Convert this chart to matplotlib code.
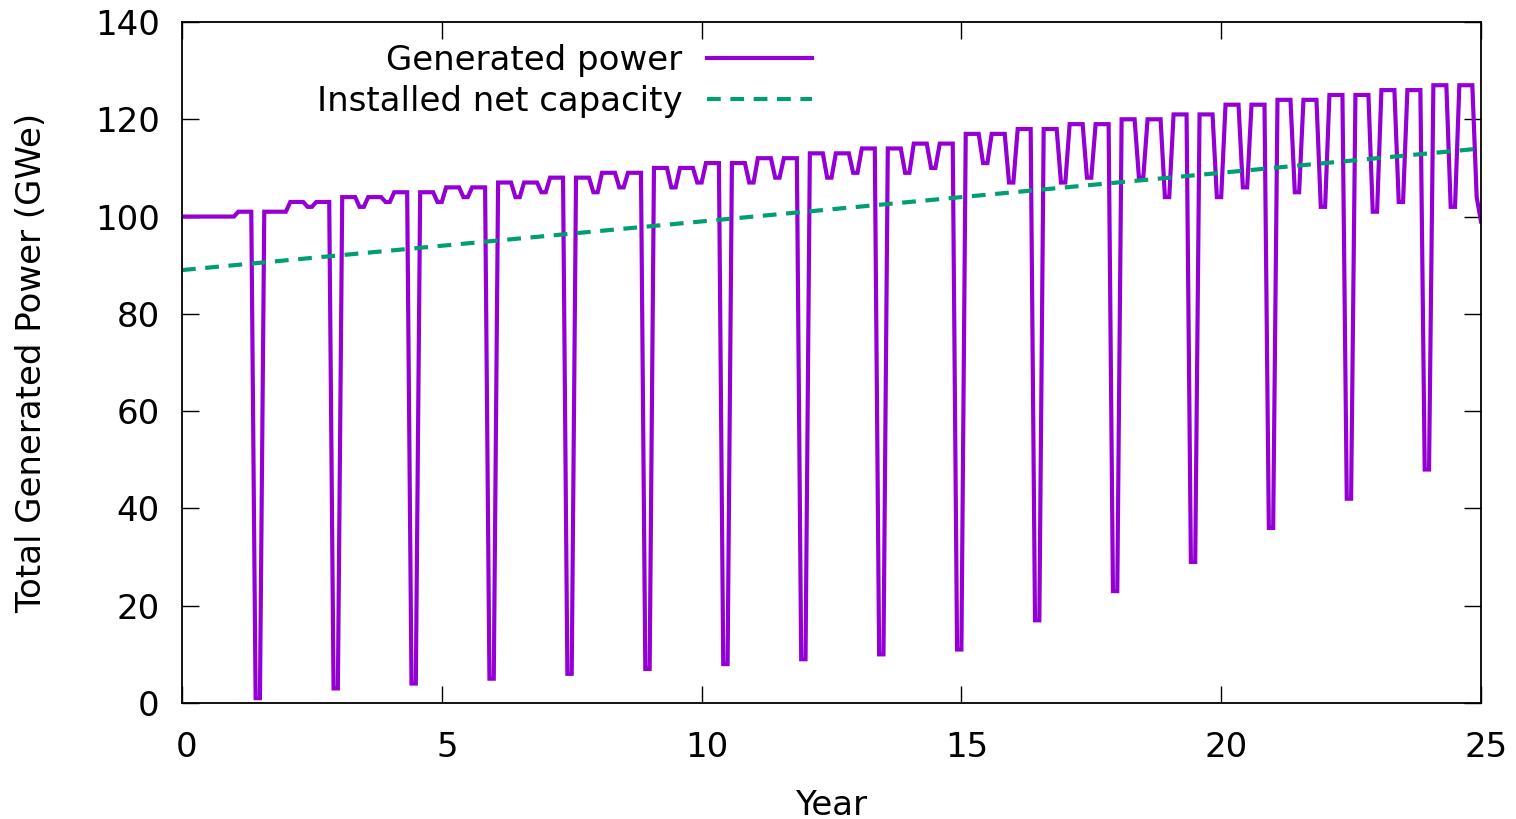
import numpy as np
import matplotlib
matplotlib.use("Agg")
import matplotlib.pyplot as plt
import matplotlib.transforms as mtransforms

# monthly samples of total generated power (GWe), one source line per 18-month cycle
gen_power = [
    100,
    100, 100, 100, 100, 100, 100, 100, 100, 100, 100, 100, 100, 101, 101, 101, 101, 1, 1,
    101, 101, 101, 101, 101, 101, 103, 103, 103, 103, 102, 102, 103, 103, 103, 103, 3, 3,
    104, 104, 104, 104, 102, 102, 104, 104, 104, 104, 103, 103, 105, 105, 105, 105, 4, 4,
    105, 105, 105, 105, 103, 103, 106, 106, 106, 106, 104, 104, 106, 106, 106, 106, 5, 5,
    107, 107, 107, 107, 104, 104, 107, 107, 107, 107, 105, 105, 108, 108, 108, 108, 6, 6,
    108, 108, 108, 108, 105, 105, 109, 109, 109, 109, 106, 106, 109, 109, 109, 109, 7, 7,
    110, 110, 110, 110, 106, 106, 110, 110, 110, 110, 107, 107, 111, 111, 111, 111, 8, 8,
    111, 111, 111, 111, 107, 107, 112, 112, 112, 112, 108, 108, 112, 112, 112, 112, 9, 9,
    113, 113, 113, 113, 108, 108, 113, 113, 113, 113, 109, 109, 114, 114, 114, 114, 10, 10,
    114, 114, 114, 114, 109, 109, 115, 115, 115, 115, 110, 110, 115, 115, 115, 115, 11, 11,
    117, 117, 117, 117, 111, 111, 117, 117, 117, 117, 107, 107, 118, 118, 118, 118, 17, 17,
    118, 118, 118, 118, 107, 107, 119, 119, 119, 119, 108, 108, 119, 119, 119, 119, 23, 23,
    120, 120, 120, 120, 108, 108, 120, 120, 120, 120, 104, 104, 121, 121, 121, 121, 29, 29,
    121, 121, 121, 121, 104, 104, 123, 123, 123, 123, 106, 106, 123, 123, 123, 123, 36, 36,
    124, 124, 124, 124, 105, 105, 124, 124, 124, 124, 102, 102, 125, 125, 125, 125, 42, 42,
    125, 125, 125, 125, 101, 101, 126, 126, 126, 126, 103, 103, 126, 126, 126, 126, 48, 48,
    127, 127, 127, 127, 102, 102, 127, 127, 127, 127, 104, 99,
]

# installed net capacity (GWe) read at a few years
cap_years = [0, 5, 10, 15, 20, 25]
cap_values = [89, 94, 99, 104, 109, 114]

x_ticks = [0, 5, 10, 15, 20, 25]
y_ticks = [0, 20, 40, 60, 80, 100, 120, 140]

plt.rcParams['font.family'] = ['DejaVu Sans']
fs = 24.5

fig = plt.figure(figsize=(15.16, 8.19), dpi=100)
ax = fig.add_axes([182 / 1516, 116 / 819, 1299 / 1516, 681 / 819])

years = np.arange(len(gen_power)) / 12.0
ax.plot(years, gen_power, color='#9400d3', lw=3, solid_joinstyle='miter',
        label='Generated power')
ax.plot(cap_years, cap_values, color='#009e73', lw=3, dashes=(3.3, 2.3),
        label='Installed net capacity')

ax.set_xlim(0, 25)
ax.set_ylim(0, 140)
ax.set_xticks(x_ticks)
ax.set_yticks(y_ticks)
ax.tick_params(direction='in', top=True, right=True, length=12, width=1,
               labelsize=fs)
ax.tick_params(axis='x', pad=20)
ax.tick_params(axis='y', pad=16)
# gnuplot puts x labels a little right of the tick
shift = mtransforms.ScaledTranslation(5 / 100, 0, fig.dpi_scale_trans)
for lab in ax.get_xticklabels():
    lab.set_transform(lab.get_transform() + shift)
for s in ax.spines.values():
    s.set_linewidth(1.3)

ax.set_xlabel('Year', fontsize=fs, labelpad=18)
ax.set_ylabel('Total Generated Power (GWe)', fontsize=fs, labelpad=34)

ax.legend(loc='upper right', bbox_to_anchor=(0.485, 0.968), frameon=False,
          markerfirst=False, fontsize=fs, handlelength=3.1, handletextpad=0.7,
          borderpad=0, borderaxespad=0, labelspacing=0.25)

fig.savefig('out.png', dpi=100)
